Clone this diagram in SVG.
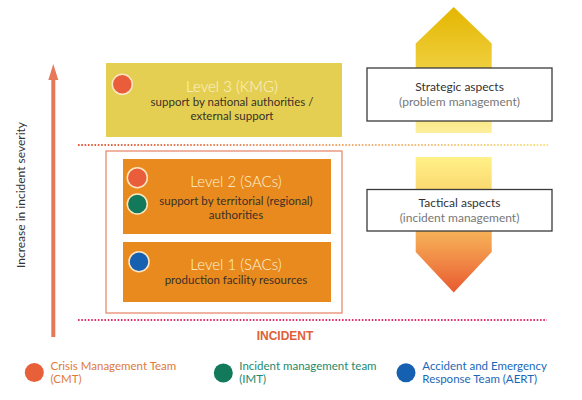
<svg xmlns="http://www.w3.org/2000/svg" width="582" height="400" viewBox="0 0 582 400">
<style>
.lvl{font-family:Lato,"Open Sans","Liberation Sans",sans-serif;font-weight:300;font-size:15px;fill:#fdf3d0;text-anchor:middle}
.sub{font-family:Lato,"Open Sans","Liberation Sans",sans-serif;font-size:11.5px;fill:#3a3027;text-anchor:middle}
.asp{font-family:Lato,"Open Sans","Liberation Sans",sans-serif;font-size:12px;fill:#333;text-anchor:middle}
.asp2{font-family:Lato,"Open Sans","Liberation Sans",sans-serif;font-size:12px;fill:#777;text-anchor:middle}
.leg{font-family:Lato,"Open Sans","Liberation Sans",sans-serif;font-size:11.5px}
.dot{stroke:#fbe6c4;stroke-width:1.5}
.box{fill:#fff;stroke:#3a3a3a;stroke-width:1.3}
.dash{fill:none;stroke-width:1.8;stroke-dasharray:1.6 1.7}
</style>
<defs>
<linearGradient id="gUp" x1="0" y1="0" x2="0" y2="1">
<stop offset="0" stop-color="#e4b600"/>
<stop offset="0.5" stop-color="#f0d040"/>
<stop offset="1" stop-color="#fdf09c"/>
</linearGradient>
<linearGradient id="gDown" x1="0" y1="0" x2="0" y2="1">
<stop offset="0" stop-color="#fff188"/>
<stop offset="0.4" stop-color="#f8c860"/>
<stop offset="0.65" stop-color="#f4a050"/>
<stop offset="1" stop-color="#e85a30"/>
</linearGradient>
<linearGradient id="gLine" gradientUnits="userSpaceOnUse" x1="78" y1="0" x2="548" y2="0">
<stop offset="0" stop-color="#e35a3c"/>
<stop offset="0.5" stop-color="#eea070"/>
<stop offset="1" stop-color="#f8e080"/>
</linearGradient>
</defs>

<g id="connectors">
<line class="dash" x1="78" y1="145" x2="548" y2="145" stroke="url(#gLine)"/>
<line class="dash" x1="78" y1="320" x2="547" y2="320" stroke="#e0306a"/>
<g id="severity-axis">
<line x1="53.3" y1="78" x2="53.3" y2="337" stroke="#e8785a" stroke-width="4"/>
<polygon points="53.3,64 48.3,80 58.3,80" fill="#e8785a"/>
</g>
</g>

<g id="severity-label">
<text transform="translate(25,195) rotate(-90)" class="asp" font-size="12">Increase in incident severity</text>
</g>

<g id="arrow-up">
<polygon points="453.7,7 491.7,43.5 491.7,133 415.7,133 415.7,43.5" fill="url(#gUp)"/>
</g>
<g id="arrow-down">
<polygon points="415.7,157 491.7,157 491.7,252 453.7,292.5 415.7,252" fill="url(#gDown)"/>
</g>

<g id="level3">
<rect x="106" y="63" width="236" height="74" fill="#e5cf52"/>
<circle class="dot" cx="122.3" cy="84.3" r="10" fill="#e95d3a"/>
<text class="lvl" x="232" y="92">Level 3 (KMG)</text>
<text class="sub" x="232" y="106">support by national authorities /</text>
<text class="sub" x="232" y="120">external support</text>
</g>

<g id="frame">
<rect x="106" y="151" width="236" height="162" fill="#fff" stroke="#e88a70" stroke-width="1.3"/>
</g>

<g id="level2">
<rect x="123" y="159" width="208" height="75" fill="#e98a1e"/>
<circle class="dot" cx="137.3" cy="177.7" r="10" fill="#e95d3a"/>
<circle class="dot" cx="137.3" cy="204" r="10" fill="#127a5a"/>
<text class="lvl" x="236" y="187">Level 2 (SACs)</text>
<text class="sub" x="236" y="205">support by territorial (regional)</text>
<text class="sub" x="236" y="218.5">authorities</text>
</g>

<g id="level1">
<rect x="123" y="242" width="208" height="60" fill="#e98a1e"/>
<circle class="dot" cx="139" cy="261.7" r="10" fill="#1560b0"/>
<text class="lvl" x="236" y="270">Level 1 (SACs)</text>
<text class="sub" x="236" y="283.5">production facility resources</text>
</g>

<g id="strategic">
<rect class="box" x="367" y="68" width="185" height="53"/>
<text class="asp" x="459.5" y="91">Strategic aspects</text>
<text class="asp2" x="459.5" y="105.5">(problem management)</text>
</g>

<g id="tactical">
<rect class="box" x="367" y="189.5" width="185" height="41.5"/>
<text class="asp" x="459.5" y="207">Tactical aspects</text>
<text class="asp2" x="459.5" y="222">(incident management)</text>
</g>

<g id="incident">
<text x="285" y="339.5" font-family="'Liberation Sans',Arial,sans-serif" font-weight="bold" font-size="12" fill="#e0603a" text-anchor="middle">INCIDENT</text>
</g>

<g id="legend-cmt">
<circle cx="34.3" cy="372.5" r="9.5" fill="#e8603a"/>
<text class="leg" x="50.5" y="369.5" fill="#e07a3a">Crisis Management Team</text>
<text class="leg" x="50.5" y="383" fill="#e07a3a">(CMT)</text>
</g>
<g id="legend-imt">
<circle cx="223.3" cy="373" r="9.5" fill="#127a5a"/>
<text class="leg" x="239.3" y="369.5" fill="#1e8a6c">Incident management team</text>
<text class="leg" x="239.3" y="383" fill="#1e8a6c">(IMT)</text>
</g>
<g id="legend-aert">
<circle cx="406" cy="372.7" r="9.5" fill="#1560b0"/>
<text class="leg" x="422.3" y="369.5" fill="#1a68b8">Accident and Emergency</text>
<text class="leg" x="422.3" y="383" fill="#1a68b8">Response Team (AERT)</text>
</g>
</svg>
